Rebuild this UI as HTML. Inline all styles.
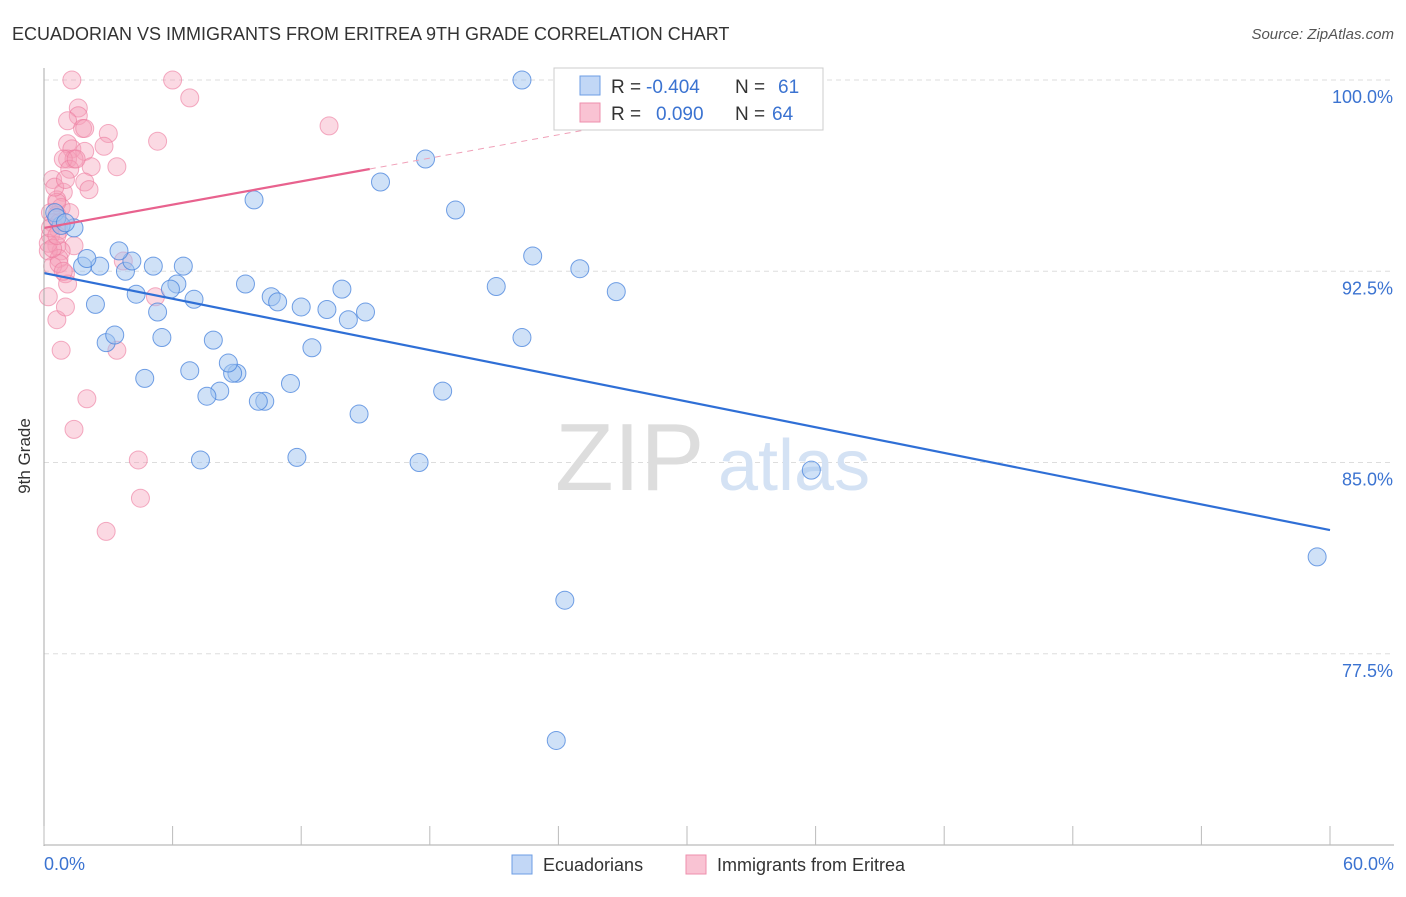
<!DOCTYPE html>
<html><head><meta charset="utf-8"><style>
body{margin:0;background:#fff;font-family:"Liberation Sans",sans-serif;}
svg text{font-family:"Liberation Sans",sans-serif;}
</style></head><body>
<svg id="chart" width="1406" height="892">
<text x="12" y="40" font-size="18" fill="#333">ECUADORIAN VS IMMIGRANTS FROM ERITREA 9TH GRADE CORRELATION CHART</text>
<text x="1394" y="39" font-size="15" fill="#555" text-anchor="end" font-style="italic">Source: ZipAtlas.com</text>
<text x="30" y="456" font-size="17" fill="#333" text-anchor="middle" transform="rotate(-90 30 456)">9th Grade</text>
<g id="grid"></g>
<text x="555" y="490" font-size="96" fill="#ddd" font-family="Liberation Serif">ZIP</text>
<text x="718" y="490" font-size="72" fill="#d4e2f4">atlas</text>
<g id="marks"></g>
<line x1="44" y1="68" x2="44" y2="846" stroke="#aaa"/>
<line x1="44" y1="845" x2="1394" y2="845" stroke="#aaa"/>
<g id="xticks"></g>
<text x="44" y="870" font-size="18" fill="#3b73d1">0.0%</text>
<text x="1394" y="870" font-size="18" fill="#3b73d1" text-anchor="end">60.0%</text>
<g>
<rect x="554" y="68" width="269" height="62" fill="#fff" stroke="#ccc"/>
<rect x="580" y="76" width="20" height="19" fill="#c2d7f6" stroke="#6c9ee4"/>
<rect x="580" y="103" width="20" height="19" fill="#f9c3d3" stroke="#ee8fac"/>
<text x="611" y="93" font-size="19" fill="#333">R =</text>
<text x="646" y="93" font-size="19" fill="#3b73d1">-0.404</text>
<text x="735" y="93" font-size="19" fill="#333">N =</text>
<text x="778" y="93" font-size="19" fill="#3b73d1">61</text>
<text x="611" y="120" font-size="19" fill="#333">R =</text>
<text x="656" y="120" font-size="19" fill="#3b73d1">0.090</text>
<text x="735" y="120" font-size="19" fill="#333">N =</text>
<text x="772" y="120" font-size="19" fill="#3b73d1">64</text>
</g>
<g>
<rect x="512" y="855" width="20" height="19" fill="#c2d7f6" stroke="#6c9ee4"/>
<text x="543" y="871" font-size="18" fill="#333">Ecuadorians</text>
<rect x="686" y="855" width="20" height="19" fill="#f9c3d3" stroke="#ee8fac"/>
<text x="717" y="871" font-size="18" fill="#333">Immigrants from Eritrea</text>
</g>
</svg>
<script>
const yTicks=[100,92.5,85,77.5];
const yTickLabels=["100.0%","92.5%","85.0%","77.5%"];
const xTicks=[0,6,12,18,24,30,36,42,48,54,60];
const blueX=[22.3,17.8,15.7,19.2,9.8,22.8,25.0,26.7,21.1,22.3,35.8,59.4,24.3,23.9,17.5,18.6,14.7,11.8,7.3,11.5,10.3,10.0,9.0,8.8,8.6,8.2,7.6,6.8,7.9,5.5,4.7,2.9,3.3,2.4,4.3,3.8,4.1,3.5,2.6,1.8,2.0,5.1,6.5,6.2,5.9,7.0,5.3,9.4,10.6,10.9,12.0,13.2,13.9,14.2,15.0,12.5,1.4,0.8,0.5,0.6,1.0];
const blueY=[100.0,96.9,96.0,94.9,95.3,93.1,92.6,91.7,91.9,89.9,84.7,81.3,79.6,74.1,85.0,87.8,86.9,85.2,85.1,88.1,87.4,87.4,88.5,88.5,88.9,87.8,87.6,88.6,89.8,89.9,88.3,89.7,90.0,91.2,91.6,92.5,92.9,93.3,92.7,92.7,93.0,92.7,92.7,92.0,91.8,91.4,90.9,92.0,91.5,91.3,91.1,91.0,91.8,90.6,90.9,89.5,94.2,94.3,94.8,94.6,94.4];
const pinkX=[1.3,6.0,6.8,1.6,1.6,1.1,1.8,1.9,3.0,5.3,13.3,1.1,2.8,1.3,1.9,1.1,1.4,0.9,2.2,3.4,1.2,0.4,1.9,2.1,0.9,0.6,0.8,1.2,0.3,0.6,0.4,0.7,0.7,0.3,1.4,0.6,0.8,0.2,0.7,1.0,0.4,1.1,0.2,0.6,1.0,0.8,2.0,1.4,4.4,4.5,2.9,3.4,5.2,3.7,0.6,0.7,0.2,0.5,1.0,1.5,0.3,0.4,0.6,0.9];
const pinkY=[100.0,100.0,99.3,98.9,98.6,98.4,98.1,98.1,97.9,97.6,98.2,97.5,97.4,97.3,97.2,96.9,96.9,96.9,96.6,96.6,96.5,96.1,96.0,95.7,95.6,95.3,95.0,94.8,94.8,94.7,94.4,94.4,94.1,93.9,93.5,93.5,93.3,93.3,93.0,92.4,92.7,92.0,91.5,90.6,91.1,89.4,87.5,86.3,85.1,83.6,82.3,89.4,91.5,92.9,95.2,92.8,93.6,95.8,96.1,96.9,94.2,93.4,93.9,92.5];
const blueLine=[[0,92.43],[60,82.35]];
const pinkLine=[[0,94.2],[15.2,96.51]];
const pinkDash=[[15.2,96.51],[25.5,98.08]];
const X=v=>44+v*(1330-44)/60;
const Y=v=>80+(100-v)*25.5;
const NS="http://www.w3.org/2000/svg";
function mk(tag,attrs,parent){const e=document.createElementNS(NS,tag);for(const k in attrs)e.setAttribute(k,attrs[k]);parent.appendChild(e);return e;}
const grid=document.getElementById('grid');
yTicks.forEach((t,i)=>{
 const l=mk('line',{x1:44,x2:1394,y1:Y(t),y2:Y(t),stroke:'#ddd','stroke-dasharray':'5,4'},grid);
 
 
 const tx=mk('text',{x:1393,y:Y(t)+23,'font-size':18,fill:'#3b73d1','text-anchor':'end'},grid);
 tx.textContent=yTickLabels[i];
 
 
});
const xt=document.getElementById('xticks');
xTicks.forEach(t=>{
 const l=mk('line',{x1:X(t),x2:X(t),y1:826,y2:845,stroke:'#bbb'},xt);
 
 
});
const marks=document.getElementById('marks');
pinkX.forEach((x,i)=>{
 const c=mk('circle',{cx:X(x),cy:Y(pinkY[i]),r:9,fill:'rgba(244,160,186,0.4)',stroke:'rgba(236,120,156,0.6)','stroke-width':1},marks);
 
 
});
blueX.forEach((x,i)=>{
 const c=mk('circle',{cx:X(x),cy:Y(blueY[i]),r:9,fill:'rgba(160,196,240,0.5)',stroke:'rgba(70,130,220,0.75)','stroke-width':1},marks);
 
 
});
function ln(p,st,name,dash){const l=mk('line',{x1:X(p[0][0]),y1:Y(p[0][1]),x2:X(p[1][0]),y2:Y(p[1][1]),stroke:st,'stroke-width':dash?1:2.2},marks);if(dash)l.setAttribute('stroke-dasharray','6,5');
 
 }
ln(blueLine,'#2f6fd6','trend-line-ecuadorians');
ln(pinkLine,'#e8628e','trend-line-eritrea');
ln(pinkDash,'#f0a0b8','trend-line-eritrea-extension',true);
</script>
</body></html>
